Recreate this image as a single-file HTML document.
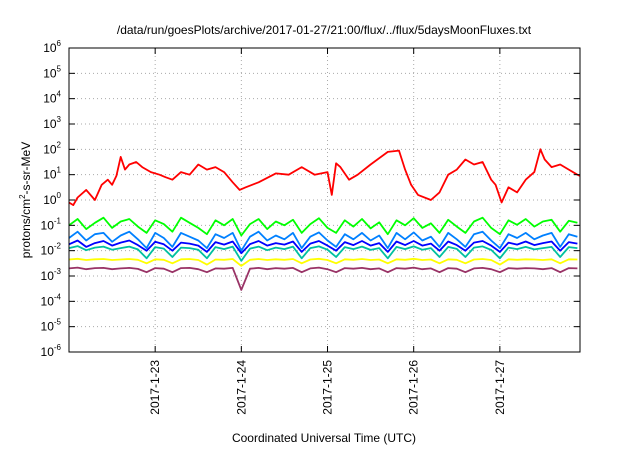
<!DOCTYPE html>
<html><head><meta charset="utf-8"><style>
body{margin:0;background:#fff;}
svg text{font-family:"Liberation Sans",sans-serif;fill:#000;}
</style></head><body>
<svg id="c" width="640" height="448" xmlns="http://www.w3.org/2000/svg">
<rect width="640" height="448" fill="#fff"/>
<text x="324" y="34" font-size="12" text-anchor="middle">/data/run/goesPlots/archive/2017-01-27/21:00/flux/../flux/5daysMoonFluxes.txt</text>
<text x="324" y="442" font-size="12" text-anchor="middle">Coordinated Universal Time (UTC)</text>
<text transform="translate(30,200) rotate(-90)" font-size="12" text-anchor="middle">protons/cm<tspan font-size="8" dy="-5">2</tspan><tspan dy="5">-s-sr-MeV</tspan></text>
<g id="grid"></g><g id="series"></g><g id="axes"></g>
</svg>
<script>
const xTickLabels=["2017-1-23","2017-1-24","2017-1-25","2017-1-26","2017-1-27"];
const xTickDays=[1,2,3,4,5];
const yDecades=[-6,-5,-4,-3,-2,-1,0,1,2,3,4,5,6];
const redDays=[0,0.05,0.1,0.2,0.3,0.38,0.45,0.5,0.55,0.6,0.65,0.7,0.78,0.85,0.95,1.05,1.12,1.2,1.3,1.4,1.5,1.6,1.7,1.8,1.9,1.98,2.05,2.2,2.4,2.55,2.7,2.85,3.0,3.05,3.1,3.15,3.25,3.35,3.5,3.7,3.83,3.9,3.97,4.05,4.2,4.3,4.4,4.5,4.6,4.7,4.8,4.9,4.95,5.02,5.1,5.2,5.3,5.4,5.47,5.52,5.6,5.7,5.8,5.9,5.93];
const redLog=[-0.1,-0.2,0.1,0.4,0.0,0.6,0.8,0.6,0.95,1.7,1.2,1.4,1.5,1.3,1.1,1.0,0.9,0.8,1.1,1.0,1.4,1.2,1.3,1.1,0.7,0.4,0.5,0.7,1.05,1.0,1.3,1.0,1.1,0.2,1.45,1.3,0.8,1.0,1.4,1.9,1.95,1.2,0.6,0.2,0.0,0.3,1.0,1.2,1.6,1.4,1.5,0.8,0.6,-0.1,0.5,0.3,0.8,1.1,2.0,1.6,1.3,1.4,1.2,1.0,0.95];
const noiseDays=[0,0.1,0.2,0.3,0.4,0.5,0.6,0.7,0.8,0.9,1.0,1.1,1.2,1.3,1.4,1.5,1.6,1.7,1.8,1.9,2.0,2.1,2.2,2.3,2.4,2.5,2.6,2.7,2.8,2.9,3.0,3.1,3.2,3.3,3.4,3.5,3.6,3.7,3.8,3.9,4.0,4.1,4.2,4.3,4.4,4.5,4.6,4.7,4.8,4.9,5.0,5.1,5.2,5.3,5.4,5.5,5.6,5.7,5.8,5.9];
const greenLog=[-1.0,-0.75,-1.15,-0.9,-0.7,-1.1,-0.85,-0.75,-1.05,-1.3,-0.8,-0.95,-1.25,-0.7,-0.9,-1.1,-1.35,-0.8,-1.0,-0.75,-1.4,-0.95,-0.75,-1.15,-0.85,-1.0,-0.78,-1.3,-0.95,-0.72,-1.1,-1.3,-0.8,-1.05,-0.75,-1.12,-0.88,-1.35,-0.8,-1.0,-0.72,-1.1,-0.92,-1.3,-0.78,-1.05,-1.3,-0.85,-0.7,-1.1,-1.35,-0.8,-0.98,-0.75,-1.05,-0.85,-0.78,-1.25,-0.82,-0.9];
const lblueLog=[-1.5,-1.25,-1.6,-1.35,-1.3,-1.65,-1.4,-1.25,-1.55,-1.9,-1.3,-1.5,-1.85,-1.3,-1.45,-1.6,-1.9,-1.35,-1.5,-1.3,-2.0,-1.45,-1.25,-1.6,-1.4,-1.55,-1.3,-1.9,-1.45,-1.28,-1.6,-1.85,-1.35,-1.55,-1.3,-1.6,-1.4,-1.9,-1.3,-1.55,-1.28,-1.6,-1.45,-1.85,-1.3,-1.55,-1.85,-1.35,-1.25,-1.6,-1.9,-1.35,-1.5,-1.3,-1.55,-1.4,-1.3,-1.85,-1.35,-1.45];
const blueLog=[-1.75,-1.6,-1.85,-1.7,-1.62,-1.8,-1.68,-1.6,-1.78,-2.0,-1.65,-1.75,-2.0,-1.68,-1.72,-1.8,-2.05,-1.66,-1.76,-1.64,-2.1,-1.74,-1.62,-1.8,-1.7,-1.76,-1.64,-2.05,-1.72,-1.62,-1.8,-2.0,-1.66,-1.78,-1.62,-1.8,-1.7,-2.05,-1.64,-1.78,-1.62,-1.8,-1.72,-2.0,-1.64,-1.78,-2.0,-1.68,-1.62,-1.8,-2.05,-1.68,-1.76,-1.64,-1.78,-1.7,-1.64,-2.0,-1.66,-1.72];
const tealLog=[-1.9,-1.82,-1.98,-1.88,-1.84,-1.96,-1.9,-1.84,-1.95,-2.3,-1.86,-1.92,-2.25,-1.88,-1.9,-1.96,-2.3,-1.86,-1.94,-1.84,-2.4,-1.92,-1.84,-1.98,-1.88,-1.94,-1.84,-2.3,-1.9,-1.83,-1.96,-2.25,-1.86,-1.94,-1.84,-1.97,-1.9,-2.3,-1.85,-1.94,-1.83,-1.96,-1.9,-2.25,-1.85,-1.93,-2.25,-1.88,-1.83,-1.97,-2.3,-1.88,-1.94,-1.85,-1.95,-1.9,-1.85,-2.25,-1.86,-1.9];
const yellowLog=[-2.35,-2.32,-2.37,-2.34,-2.33,-2.37,-2.35,-2.33,-2.36,-2.5,-2.34,-2.36,-2.5,-2.34,-2.33,-2.37,-2.55,-2.35,-2.36,-2.33,-2.6,-2.36,-2.33,-2.37,-2.34,-2.36,-2.33,-2.5,-2.35,-2.32,-2.37,-2.5,-2.34,-2.36,-2.33,-2.37,-2.35,-2.5,-2.34,-2.36,-2.32,-2.37,-2.35,-2.5,-2.34,-2.36,-2.5,-2.35,-2.33,-2.37,-2.55,-2.34,-2.36,-2.34,-2.35,-2.37,-2.34,-2.5,-2.34,-2.35];
const purpleLog=[-2.7,-2.67,-2.73,-2.69,-2.68,-2.73,-2.7,-2.68,-2.72,-2.85,-2.69,-2.71,-2.85,-2.69,-2.68,-2.73,-2.85,-2.7,-2.71,-2.68,-3.55,-2.71,-2.68,-2.73,-2.69,-2.71,-2.68,-2.85,-2.7,-2.67,-2.73,-2.85,-2.69,-2.71,-2.68,-2.73,-2.7,-2.85,-2.69,-2.71,-2.67,-2.73,-2.7,-2.85,-2.69,-2.71,-2.85,-2.7,-2.68,-2.73,-2.85,-2.69,-2.71,-2.69,-2.7,-2.73,-2.69,-2.85,-2.69,-2.7];
const L=69,R=580,T=48,B=352,D0=0,D1=5.93;
const X=d=>L+(d-D0)/(D1-D0)*(R-L);
const Y=v=>T+(6-v)/12*(B-T);
const NS="http://www.w3.org/2000/svg";
function mk(tag,attrs,parent){const e=document.createElementNS(NS,tag);for(const k in attrs)e.setAttribute(k,attrs[k]);document.getElementById(parent).appendChild(e);return e;}
yDecades.forEach(v=>{
  if(v>-6&&v<6){const g=mk('line',{x1:L,x2:R,y1:Y(v),y2:Y(v),stroke:'#aaa','stroke-dasharray':'1,3'},'grid');
  
  }
  const t1=mk('line',{x1:L,x2:L+6,y1:Y(v),y2:Y(v),stroke:'#000'},'axes');
  
  
  const t2=mk('line',{x1:R-6,x2:R,y1:Y(v),y2:Y(v),stroke:'#000'},'axes');
  
  
  const tx=mk('text',{x:L-8,y:Y(v)+4,'font-size':'12','text-anchor':'end'},'axes');
  
  
  tx.innerHTML='10<tspan font-size="8" dy="-6">'+v+'</tspan>';
});
xTickDays.forEach((d,i)=>{
  const g=mk('line',{x1:X(d),x2:X(d),y1:T,y2:B,stroke:'#aaa','stroke-dasharray':'1,3'},'grid');
  
  
  const t1=mk('line',{x1:X(d),x2:X(d),y1:B-6,y2:B,stroke:'#000'},'axes');
  
  
  const t2=mk('line',{x1:X(d),x2:X(d),y1:T,y2:T+6,stroke:'#000'},'axes');
  
  
  const tx=mk('text',{transform:'translate('+(X(d)+4)+','+(B+8)+') rotate(-90)','font-size':'12','text-anchor':'end'},'axes');
  
  
  tx.textContent=xTickLabels[i];
});
const fr=mk('rect',{x:L,y:T,width:R-L,height:B-T,fill:'none',stroke:'#000'},'axes');


function line(days,vals,color,name){
  const p=mk('polyline',{points:days.map((d,i)=>X(d).toFixed(1)+','+Y(vals[i]).toFixed(1)).join(' '),fill:'none',stroke:color,'stroke-width':'1.8','stroke-linejoin':'round'},'series');
  
  
}
line(noiseDays,purpleLog,'#993366','series-purple');
line(noiseDays,yellowLog,'#ffff00','series-yellow');
line(noiseDays,greenLog,'#00ff00','series-green');
line(noiseDays,tealLog,'#00c0a0','series-teal');
line(noiseDays,lblueLog,'#0080ff','series-lightblue');
line(noiseDays,blueLog,'#0000ff','series-blue');
line(redDays,redLog,'#ff0000','series-red');
</script>
</body></html>
